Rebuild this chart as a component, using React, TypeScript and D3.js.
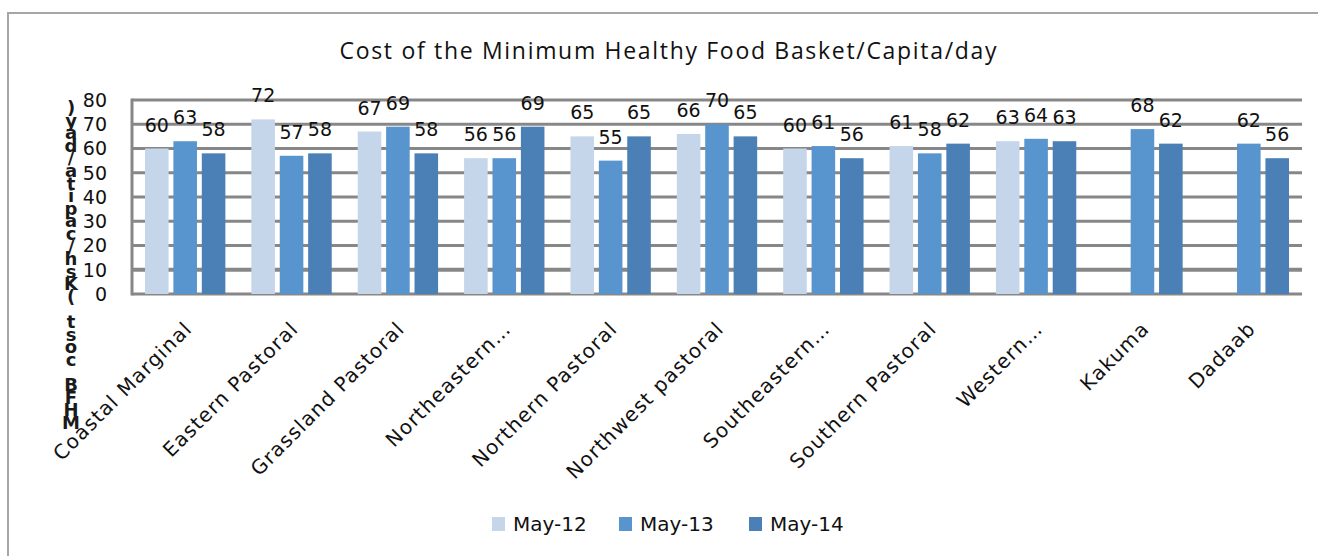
import React from 'react';
import * as d3 from 'd3';

// chart data
const categories = [
  'Coastal Marginal', 'Eastern Pastoral', 'Grassland Pastoral', 'Northeastern…',
  'Northern Pastoral', 'Northwest pastoral', 'Southeastern…', 'Southern Pastoral',
  'Western…', 'Kakuma', 'Dadaab'
];
const seriesNames = ['May-12', 'May-13', 'May-14'];
const may12 = [60, 72, 67, 56, 65, 66, 60, 61, 63, null, null];
const may13 = [63, 57, 69, 56, 55, 70, 61, 58, 64, 68, 62];
const may14 = [58, 58, 58, 69, 65, 65, 56, 62, 63, 62, 56];
const yTicks = [0, 10, 20, 30, 40, 50, 60, 70, 80];
const title = 'Cost of the Minimum Healthy Food Basket/Capita/day';
const yLabel = 'MHFB cost (Ksh/capita/day)';

const colors = ['#c5d5ea', '#5894cd', '#4a80b5'];

const W = 1318;
const H = 556;
const plot = { left: 132, right: 1302, top: 100, bottom: 294 };

export default function App() {
  const series = [may12, may13, may14];

  const x = d3.scaleBand<string>()
    .domain(categories)
    .range([plot.left, plot.right])
    .padding(0);

  const xInner = d3.scaleBand<string>()
    .domain(seriesNames)
    .range([13, x.bandwidth() - 13])
    .paddingInner(0.17);

  const y = d3.scaleLinear().domain([0, 80]).range([plot.bottom, plot.top]);

  const font = "'DejaVu Sans', Verdana, sans-serif";

  return (
    <svg width={W} height={H} style={{ position: 'absolute', left: 0, top: 0, background: '#fff' }}>
      {/* outer frame */}
      <path d={`M8,${H} L8,13 L${W},13`} fill="none" stroke="#a6a6a6" strokeWidth={2} />

      <text x={668} y={59} textAnchor="middle" fontFamily="'Open Sans', sans-serif" fontSize={23}
        textLength={657} lengthAdjust="spacing" fill="#111">{title}</text>

      {/* gridlines */}
      {yTicks.map(t => (
        <line key={t} x1={plot.left} x2={plot.right} y1={y(t)} y2={y(t)}
          stroke="#878787" strokeWidth={t === 10 ? 4 : 3} />
      ))}
      <line x1={plot.left} x2={plot.left} y1={plot.top - 1.5} y2={plot.bottom + 1.5} stroke="#878787" strokeWidth={3} />

      {/* y tick labels */}
      {yTicks.map(t => (
        <text key={t} x={107} y={y(t)} dy="0.36em" textAnchor="end" fontFamily={font} fontSize={19} fill="#111">{t}</text>
      ))}

      {/* stacked y label, characters upright, read bottom to top */}
      {yLabel.split('').reverse().map((ch, i) => (
        <text key={i} x={71} y={114 + i * 12.6} textAnchor="middle" fontFamily={font} fontSize={18}
          fontWeight={600} fill="#1a1a1a">{ch}</text>
      ))}

      {/* bars */}
      {categories.map((c, ci) => (
        <g key={c} transform={`translate(${x(c)},0)`}>
          {series.map((s, si) => {
            const v = s[ci];
            if (v == null) return null;
            const bx = xInner(seriesNames[si])!;
            return (
              <g key={si}>
                <rect x={bx} y={y(v)} width={xInner.bandwidth()} height={plot.bottom - y(v)} fill={colors[si]} />
                <text x={bx + xInner.bandwidth() / 2} y={y(v) - 17} textAnchor="middle" fontFamily={font} fontSize={19} fill="#111">{v}</text>
              </g>
            );
          })}
        </g>
      ))}

      {/* category labels */}
      {categories.map(c => {
        const cx = x(c)! + x.bandwidth() / 2;
        return (
          <text key={c} transform={`translate(${cx + 8},${330}) rotate(-45)`} textAnchor="end"
            fontFamily={font} fontSize={20} letterSpacing={1.2} fill="#111">{c}</text>
        );
      })}

      {/* legend */}
      {seriesNames.map((n, i) => {
        const lx = [492, 619, 749][i];
        return (
          <g key={n}>
            <rect x={lx} y={517} width={13} height={14} fill={colors[i]} />
            <text x={lx + 21} y={531} fontFamily={font} fontSize={20} fill="#111">{n}</text>
          </g>
        );
      })}
    </svg>
  );
}
